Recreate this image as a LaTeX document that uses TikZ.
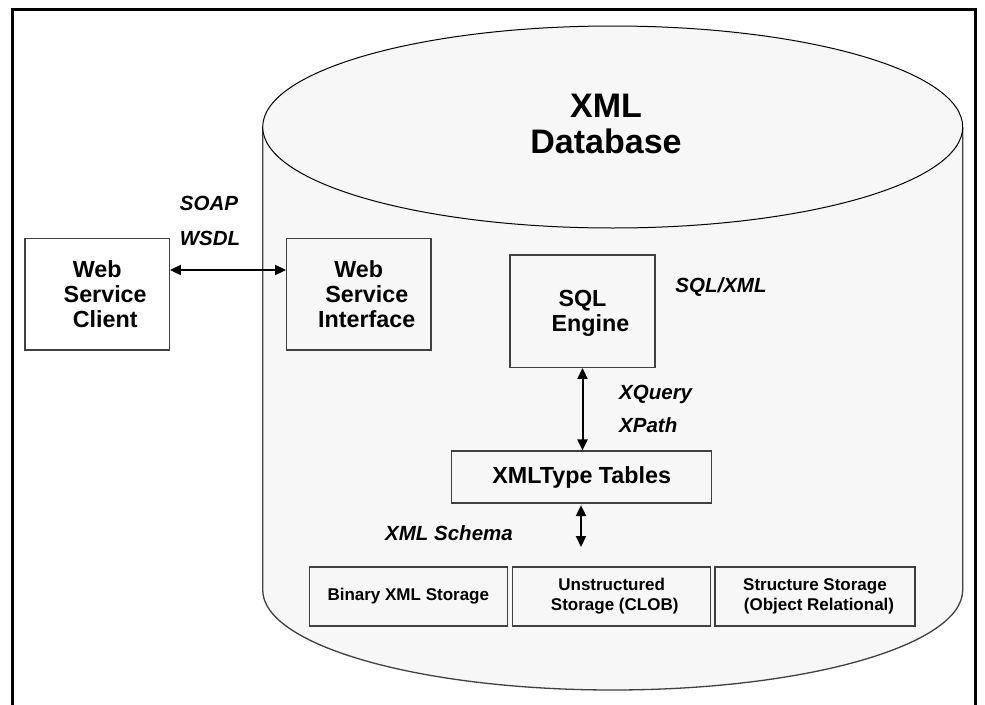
\documentclass[tikz,border=0pt]{standalone}
\usepackage{fontspec}
\setmainfont{Liberation Sans}
\usetikzlibrary{arrows.meta}
\definecolor{cylfill}{HTML}{F7F7F7}
\definecolor{boxline}{HTML}{404040}
\begin{document}
\begin{tikzpicture}[x=1pt,y=-1pt,
  box/.style={draw=boxline, line width=1.2pt, inner sep=0pt, align=center,
    font=\bfseries\fontsize{23.3}{25.3}\selectfont},
  smallbox/.style={box, font=\bfseries\fontsize{17}{20}\selectfont},
  lab/.style={font=\bfseries\itshape\fontsize{20.5}{22}\selectfont, inner sep=0pt},
  arr/.style={line width=2pt, {Triangle[length=11pt,width=10pt]}-{Triangle[length=11pt,width=10pt]}},
  cylside/.style={draw=black!75, line width=1.3pt}
]
\useasboundingbox (0,0) rectangle (985,704);
% frame
\draw[line width=3pt, line join=miter] (12,712) -- (12,9) -- (975,9) -- (975,712);
% cylinder
\path[fill=cylfill] (262.7,127) -- (262.7,590) .. controls (262.7,645.2) and (419.4,690) .. (612.7,690)
  .. controls (806,690) and (962.7,645.2) .. (962.7,590) -- (962.7,127) -- cycle;
\draw[cylside] (262.7,127) -- (262.7,590) .. controls (262.7,645.2) and (419.4,690) .. (612.7,690)
  .. controls (806,690) and (962.7,645.2) .. (962.7,590) -- (962.7,127);
\draw[fill=cylfill, draw=black, line width=1pt] (612.7,127) ellipse [x radius=350, y radius=101];
% title
\node[font=\bfseries\fontsize{34}{36}\selectfont, align=center, inner sep=0pt] (title) at (606,124) {XML\\Database};
% boxes
\node[box, minimum width=144.3pt, minimum height=111.7pt] (client) at (97.2,294.2)
  {Web\\\hspace*{16pt}Service\\\hspace*{16pt}Client};
\node[box, minimum width=144.3pt, minimum height=111.7pt] (wsi) at (358.8,294.2)
  {Web\\\hspace*{16pt}Service\\\hspace*{16pt}Interface};
\node[box, minimum width=145pt, minimum height=112.3pt, text depth=0pt] (sql) at (582.5,311.2)
  {SQL\\\hspace*{16pt}Engine};
\node[box, minimum width=260pt, minimum height=52pt] (xmlt) at (581.7,477) {XMLType Tables};
\node[smallbox, minimum width=198pt, minimum height=59pt] (bin) at (408.3,596.5) {Binary XML Storage};
\node[smallbox, minimum width=198pt, minimum height=59pt] (unstr) at (611.7,596.5)
  {Unstructured\\\hspace*{6pt}Storage (CLOB)};
\node[smallbox, minimum width=200pt, minimum height=59pt] (struct) at (815,596.5)
  {Structure Storage\\\hspace*{8pt}(Object Relational)};
% labels
\node[lab, anchor=base] (soap) at (209,210) {SOAP};
\node[lab, anchor=base] (wsdl) at (210,245.6) {WSDL};
\node[lab, anchor=base] (sqlxml) at (721,292.3) {SQL/XML};
\node[lab, anchor=base west] (xquery) at (619,399) {XQuery};
\node[lab, anchor=base west] (xpath) at (619,432.3) {XPath};
\node[lab, anchor=base] (schema) at (449,540.6) {XML Schema};
% arrows
\coordinate (schemaEnd) at (581,547);
\draw[arr] ([yshift=24.2pt]client.east) -- ([yshift=24.2pt]wsi.west);
\draw[arr] (sql.south) -- (sql.south |- xmlt.north);
\draw[arr] ([yshift=-1.5pt]xmlt.south -| schemaEnd) -- (schemaEnd);
\end{tikzpicture}
\end{document}
